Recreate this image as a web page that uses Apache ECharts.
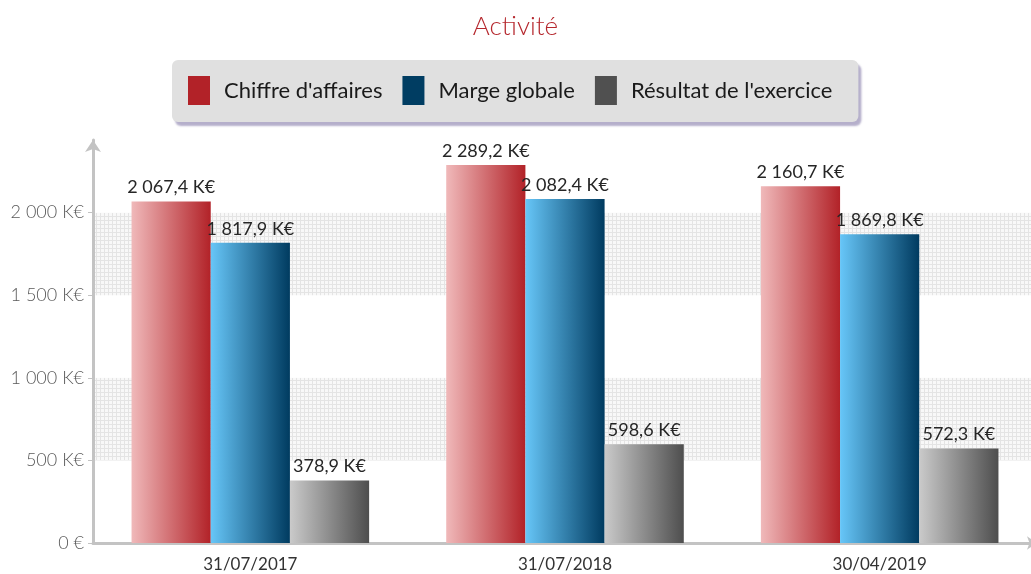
<!DOCTYPE html>
<html>
<head>
<meta charset="utf-8">
<script src="https://cdn.jsdelivr.net/npm/echarts@6/dist/echarts.min.js"></script>
<style>
  html, body { margin: 0; padding: 0; background: #fff; }
  #chart { width: 1031px; height: 574px; }
</style>
</head>
<body>
<div id="chart"></div>
<script>
const categories = ["31/07/2017", "31/07/2018", "30/04/2019"];
const chiffreAffaires = [2067.4, 2289.2, 2160.7];
const margeGlobale = [1817.9, 2082.4, 1869.8];
const resultatExercice = [378.9, 598.6, 572.3];

const FONT = "Lato";

// "2 067,4 K€"
function fmtValue(v) {
  const parts = v.toFixed(1).split(".");
  const int = parts[0].replace(/\B(?=(\d{3})+(?!\d))/g, " ");
  return int + "," + parts[1] + " K€";
}

function fmtAxis(v) {
  if (v % 500 !== 0) return "";
  if (v === 0) return "0 €";
  return String(v).replace(/\B(?=(\d{3})+(?!\d))/g, " ") + " K€";
}

// small dotted grid used for the alternate bands
function makePattern() {
  const c = document.createElement("canvas");
  c.width = 4;
  c.height = 4;
  const ctx = c.getContext("2d");
  ctx.fillStyle = "#f8f8f8";
  ctx.fillRect(0, 0, 4, 4);
  ctx.fillStyle = "#e4e4e4";
  ctx.fillRect(0, 0, 4, 1);
  ctx.fillRect(0, 0, 1, 4);
  return c;
}

function hGrad(from, to) {
  return new echarts.graphic.LinearGradient(0, 0, 1, 0, [
    { offset: 0, color: from },
    { offset: 1, color: to }
  ]);
}

function barSeries(name, data, from, to) {
  return {
    name: name,
    type: "bar",
    data: data,
    barGap: "0%",
    barCategoryGap: "24.5%",
    itemStyle: { color: hGrad(from, to) },
    label: {
      show: true,
      position: "top",
      distance: 5,
      fontFamily: FONT,
      fontSize: 18,
      color: "#262626",
      formatter: p => fmtValue(p.value)
    }
  };
}

const chart = echarts.init(document.getElementById("chart"));

chart.setOption({
  animation: false,
  title: {
    text: "Activité",
    left: "center",
    top: 9,
    textStyle: { fontFamily: FONT, fontSize: 26, fontWeight: 300, color: "#b5272d" }
  },
  legend: {
    top: 60,
    left: 172,
    itemWidth: 22,
    itemHeight: 29,
    itemGap: 20,
    padding: [16, 26, 17, 16],
    backgroundColor: "#e0e0e0",
    borderRadius: 6,
    shadowColor: "rgba(120,110,160,0.55)",
    shadowOffsetX: 3,
    shadowOffsetY: 4,
    shadowBlur: 2,
    icon: "rect",
    data: [
      { name: "Chiffre d'affaires", itemStyle: { color: "#b22228" } },
      { name: "Marge globale", itemStyle: { color: "#003d62" } },
      { name: "Résultat de l'exercice", itemStyle: { color: "#505050" } }
    ],
    textStyle: { fontFamily: FONT, fontSize: 22, color: "#1a1a1a", padding: [0, 0, 0, 9] }
  },
  grid: { left: 93, width: 944, top: 140, bottom: 31, outerBoundsMode: "none", containLabel: false },
  xAxis: {
    type: "category",
    data: categories,
    axisLine: {
      lineStyle: { color: "#c3c3c3", width: 3 },
      symbol: ["none", "arrow"],
      symbolSize: [10, 10]
    },
    axisTick: { show: false },
    axisLabel: { fontFamily: FONT, fontSize: 17, color: "#333333", margin: 13 }
  },
  yAxis: {
    type: "value",
    min: 0,
    max: 2440,
    interval: 500,
    axisLine: {
      show: true,
      lineStyle: { color: "#c3c3c3", width: 3 },
      symbol: ["none", "arrow"],
      symbolSize: [12, 12]
    },
    axisTick: { show: true, length: 5, lineStyle: { color: "#c3c3c3", width: 1 } },
    splitLine: { show: false },
    splitArea: {
      show: true,
      areaStyle: { color: ["#ffffff", { image: makePattern(), repeat: "repeat" }] }
    },
    axisLabel: {
      fontFamily: FONT,
      fontWeight: 300,
      fontSize: 18,
      color: "#595959",
      margin: 9,
      showMaxLabel: false,
      formatter: fmtAxis
    }
  },
  series: [
    barSeries("Chiffre d'affaires", chiffreAffaires, "#f0b9ba", "#b22228"),
    barSeries("Marge globale", margeGlobale, "#67c6f8", "#003b60"),
    barSeries("Résultat de l'exercice", resultatExercice, "#cacaca", "#4e4e4e")
  ]
});
</script>
</body>
</html>
